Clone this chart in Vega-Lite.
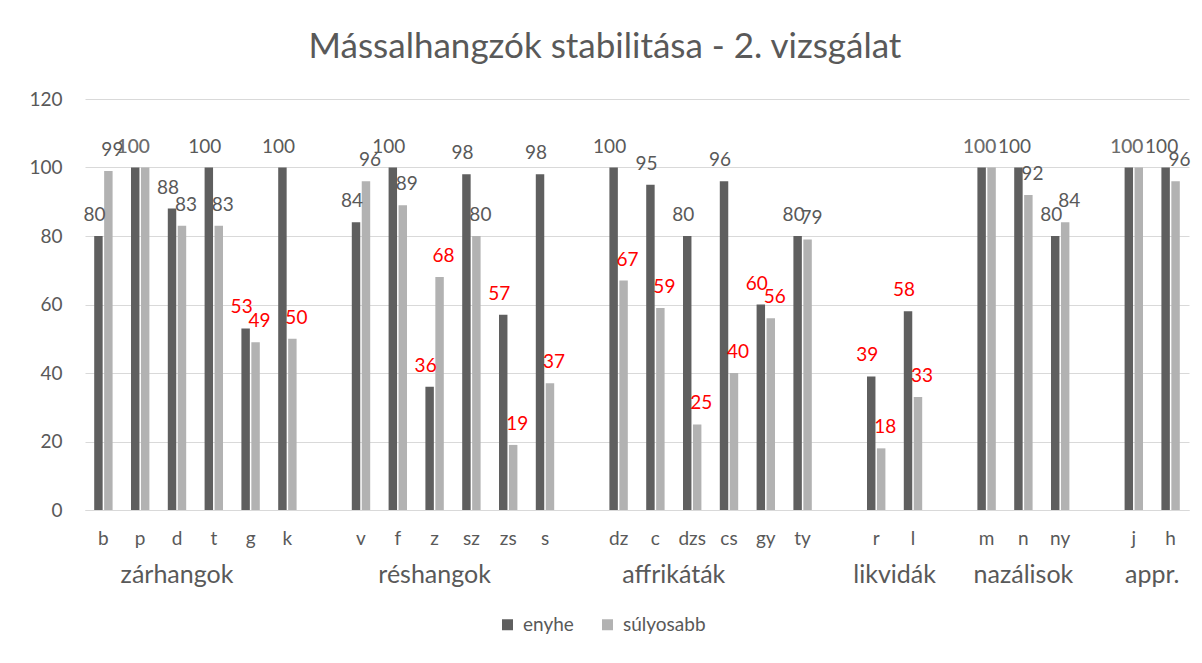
{
  "$schema": "https://vega.github.io/schema/vega-lite/v6.json",
  "autosize": {"type": "none"},
  "width": 1104,
  "height": 411,
  "padding": {"left": 85, "top": 99, "right": 13, "bottom": 153},
  "background": "white",
  "title": {"text": "Mássalhangzók stabilitása - 2. vizsgálat", "font": "Lato", "fontSize": 35, "fontWeight": "normal", "color": "#595959", "anchor": "middle", "dx": -32, "offset": 25},
  "config": {"view": {"stroke": null}},
  "datasets": {
    "bars": [
      {"cat": "b", "series": "enyhe", "value": 80}, {"cat": "b", "series": "súlyosabb", "value": 99},
      {"cat": "p", "series": "enyhe", "value": 100}, {"cat": "p", "series": "súlyosabb", "value": 100},
      {"cat": "d", "series": "enyhe", "value": 88}, {"cat": "d", "series": "súlyosabb", "value": 83},
      {"cat": "t", "series": "enyhe", "value": 100}, {"cat": "t", "series": "súlyosabb", "value": 83},
      {"cat": "g", "series": "enyhe", "value": 53}, {"cat": "g", "series": "súlyosabb", "value": 49},
      {"cat": "k", "series": "enyhe", "value": 100}, {"cat": "k", "series": "súlyosabb", "value": 50},
      {"cat": "v", "series": "enyhe", "value": 84}, {"cat": "v", "series": "súlyosabb", "value": 96},
      {"cat": "f", "series": "enyhe", "value": 100}, {"cat": "f", "series": "súlyosabb", "value": 89},
      {"cat": "z", "series": "enyhe", "value": 36}, {"cat": "z", "series": "súlyosabb", "value": 68},
      {"cat": "sz", "series": "enyhe", "value": 98}, {"cat": "sz", "series": "súlyosabb", "value": 80},
      {"cat": "zs", "series": "enyhe", "value": 57}, {"cat": "zs", "series": "súlyosabb", "value": 19},
      {"cat": "s", "series": "enyhe", "value": 98}, {"cat": "s", "series": "súlyosabb", "value": 37},
      {"cat": "dz", "series": "enyhe", "value": 100}, {"cat": "dz", "series": "súlyosabb", "value": 67},
      {"cat": "c", "series": "enyhe", "value": 95}, {"cat": "c", "series": "súlyosabb", "value": 59},
      {"cat": "dzs", "series": "enyhe", "value": 80}, {"cat": "dzs", "series": "súlyosabb", "value": 25},
      {"cat": "cs", "series": "enyhe", "value": 96}, {"cat": "cs", "series": "súlyosabb", "value": 40},
      {"cat": "gy", "series": "enyhe", "value": 60}, {"cat": "gy", "series": "súlyosabb", "value": 56},
      {"cat": "ty", "series": "enyhe", "value": 80}, {"cat": "ty", "series": "súlyosabb", "value": 79},
      {"cat": "r", "series": "enyhe", "value": 39}, {"cat": "r", "series": "súlyosabb", "value": 18},
      {"cat": "l", "series": "enyhe", "value": 58}, {"cat": "l", "series": "súlyosabb", "value": 33},
      {"cat": "m", "series": "enyhe", "value": 100}, {"cat": "m", "series": "súlyosabb", "value": 100},
      {"cat": "n", "series": "enyhe", "value": 100}, {"cat": "n", "series": "súlyosabb", "value": 92},
      {"cat": "ny", "series": "enyhe", "value": 80}, {"cat": "ny", "series": "súlyosabb", "value": 84},
      {"cat": "j", "series": "enyhe", "value": 100}, {"cat": "j", "series": "súlyosabb", "value": 100},
      {"cat": "h", "series": "enyhe", "value": 100}, {"cat": "h", "series": "súlyosabb", "value": 96}
    ],
    "groupsOnCategory": [
      {"group": "zárhangok", "anchor": "d"},
      {"group": "réshangok", "anchor": "z"},
      {"group": "nazálisok", "anchor": "n"}
    ],
    "groupsBetween": [
      {"group": "affrikáták", "anchor": "c"},
      {"group": "likvidák", "anchor": "r"},
      {"group": "appr.", "anchor": "j"}
    ]
  },
  "layer": [
    {
      "data": {"name": "bars"},
      "mark": {"type": "bar"},
      "encoding": {
        "x": {
          "field": "cat", "type": "nominal", "title": null,
          "scale": {"domain": ["b","p","d","t","g","k","#1","v","f","z","sz","zs","s","#2","dz","c","dzs","cs","gy","ty","#3","r","l","#4","m","n","ny","#5","j","h"], "paddingInner": 0.5, "paddingOuter": 0.25},
          "axis": {"labelAngle": 0, "ticks": false, "tickSize": 0, "labelPadding": 19, "domainColor": "#d9d9d9", "domainWidth": 1, "labelFont": "Lato", "labelFontSize": 19, "labelColor": "#595959", "labelExpr": "indexof(datum.value, '#') == 0 ? '' : datum.value", "grid": false}
        },
        "xOffset": {"field": "series", "type": "nominal", "scale": {"domain": ["enyhe", "súlyosabb"], "paddingInner": 0.15, "paddingOuter": 0}},
        "y": {
          "field": "value", "type": "quantitative", "title": null,
          "scale": {"domain": [0, 120], "nice": false},
          "axis": {"values": [0, 20, 40, 60, 80, 100, 120], "domain": false, "ticks": false, "tickSize": 0, "labelPadding": 23, "gridColor": "#d9d9d9", "gridWidth": 1, "labelFont": "Lato", "labelFontSize": 19, "labelColor": "#595959"}
        },
        "color": {
          "field": "series", "type": "nominal",
          "scale": {"domain": ["enyhe", "súlyosabb"], "range": ["#5f5f5f", "#b2b2b2"]},
          "legend": {"orient": "none", "legendX": 413, "legendY": 516, "direction": "horizontal", "title": null, "symbolType": "square", "symbolSize": 121, "symbolStrokeWidth": 0, "labelFont": "Lato", "labelFontSize": 19, "labelColor": "#595959", "columnPadding": 24, "labelOffset": 6}
        }
      }
    },
    {
      "data": {"name": "bars"},
      "transform": [
        {"joinaggregate": [{"op": "min", "field": "value", "as": "minv"}, {"op": "max", "field": "value", "as": "maxv"}], "groupby": ["cat"]},
        {"filter": "datum.minv != datum.maxv && datum.series == 'enyhe'"}
      ],
      "mark": {"type": "text", "baseline": "alphabetic", "align": "center", "dy": -15, "dx": -4, "font": "Lato", "fontSize": 19},
      "encoding": {
        "x": {"field": "cat", "type": "nominal", "title": null},
        "xOffset": {"field": "series", "type": "nominal"},
        "y": {"field": "value", "type": "quantitative", "title": null},
        "text": {"field": "value", "type": "quantitative"},
        "color": {"condition": {"test": "datum.value < 70", "value": "#ff0000"}, "value": "#595959"}
      }
    },
    {
      "data": {"name": "bars"},
      "transform": [
        {"joinaggregate": [{"op": "min", "field": "value", "as": "minv"}, {"op": "max", "field": "value", "as": "maxv"}], "groupby": ["cat"]},
        {"filter": "datum.minv != datum.maxv && datum.series == 'súlyosabb'"}
      ],
      "mark": {"type": "text", "baseline": "alphabetic", "align": "center", "dy": -15, "dx": 4, "font": "Lato", "fontSize": 19},
      "encoding": {
        "x": {"field": "cat", "type": "nominal", "title": null},
        "xOffset": {"field": "series", "type": "nominal"},
        "y": {"field": "value", "type": "quantitative", "title": null},
        "text": {"field": "value", "type": "quantitative"},
        "color": {"condition": {"test": "datum.value < 70", "value": "#ff0000"}, "value": "#595959"}
      }
    },
    {
      "data": {"name": "bars"},
      "transform": [
        {"joinaggregate": [{"op": "min", "field": "value", "as": "minv"}, {"op": "max", "field": "value", "as": "maxv"}], "groupby": ["cat"]},
        {"filter": "datum.minv == datum.maxv"}
      ],
      "mark": {"type": "text", "baseline": "alphabetic", "align": "center", "dy": -15, "dx": -2, "font": "Lato", "fontSize": 19, "opacity": 0.65},
      "encoding": {
        "x": {"field": "cat", "type": "nominal", "title": null},
        "xOffset": {"datum": "enyhe", "type": "nominal"},
        "y": {"field": "value", "type": "quantitative", "title": null},
        "text": {"field": "value", "type": "quantitative"},
        "color": {"value": "#595959"}
      }
    },
    {
      "data": {"name": "groupsOnCategory"},
      "mark": {"type": "text", "baseline": "alphabetic", "align": "center", "font": "Lato", "fontSize": 25, "color": "#595959"},
      "encoding": {
        "x": {"field": "anchor", "type": "nominal", "title": null, "bandPosition": 0.5},
        "y": {"datum": -21.3, "type": "quantitative"},
        "text": {"field": "group", "type": "nominal"}
      }
    },
    {
      "data": {"name": "groupsBetween"},
      "mark": {"type": "text", "baseline": "alphabetic", "align": "center", "font": "Lato", "fontSize": 25, "color": "#595959"},
      "encoding": {
        "x": {"field": "anchor", "type": "nominal", "title": null, "bandPosition": 1.5},
        "y": {"datum": -21.3, "type": "quantitative"},
        "text": {"field": "group", "type": "nominal"}
      }
    }
  ]
}
